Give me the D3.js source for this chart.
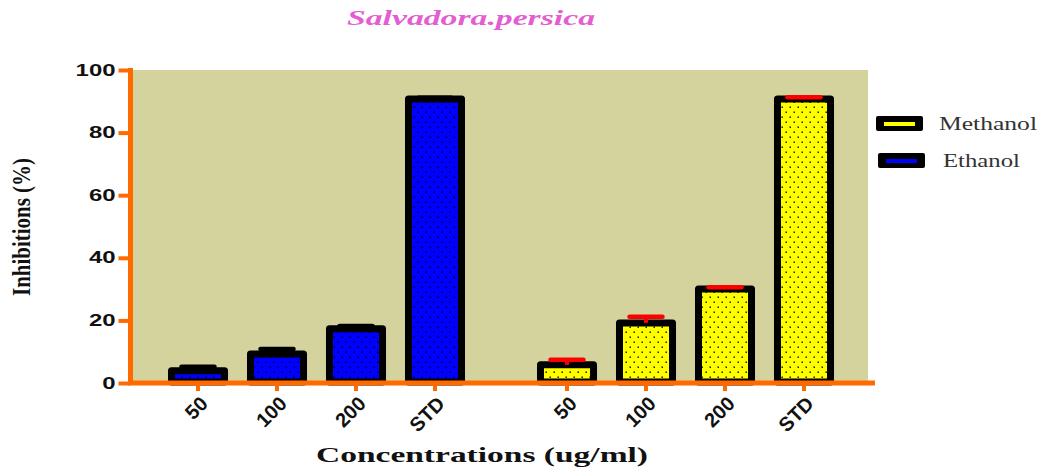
<!DOCTYPE html>
<html>
<head>
<meta charset="utf-8">
<script src="https://cdn.jsdelivr.net/npm/d3@7"></script>
<style>
  html, body { margin: 0; padding: 0; background: #ffffff; }
  svg { display: block; }
</style>
</head>
<body>
<svg id="chart" width="1041" height="472"></svg>
<script>
// Inhibition (%) of Salvadora persica extracts at each concentration
const groups = ["Ethanol", "Methanol"];
const concentrations = ["50", "100", "200", "STD"];
const ethanolMean = [3.9, 9.3, 17.3, 90.7];
const ethanolSem = [1.3, 1.6, 0.9, 0.4];
const methanolMean = [5.8, 19.2, 30.0, 90.7];
const methanolSem = [1.6, 2.0, 0.6, 0.6];
const yTicks = [0, 20, 40, 60, 80, 100];
const legendOrder = ["Methanol", "Ethanol"];

const fills = { Ethanol: "#0000ff", Methanol: "#ffff00" };
const errColor = { Ethanol: "#000000", Methanol: "#ff0000" };
const orange = "#ff6a00";

const svg = d3.select("#chart");

const plot = { left: 133, right: 868, top: 70, bottom: 383 };

const y = d3.scaleLinear().domain([0, 100]).range([plot.bottom, plot.top]);
const x0 = d3.scaleBand().domain(groups).range([158.5, 843.5]).paddingInner(53 / 369);
const x1 = d3.scaleBand().domain(concentrations).range([0, x0.bandwidth()])
  .paddingInner(0.24).paddingOuter(0.12);

const data = [];
groups.forEach(g => {
  const means = g === "Ethanol" ? ethanolMean : methanolMean;
  const sems = g === "Ethanol" ? ethanolSem : methanolSem;
  concentrations.forEach((c, i) => data.push({ group: g, conc: c, mean: means[i], sem: sems[i] }));
});

// dotted fill patterns
const defs = svg.append("defs");
groups.forEach(g => {
  const p = defs.append("pattern")
    .attr("id", "dots-" + g)
    .attr("patternUnits", "userSpaceOnUse")
    .attr("width", 8).attr("height", 10);
  p.append("rect").attr("width", 8).attr("height", 10).attr("fill", fills[g]);
  p.append("rect").attr("x", 1.5).attr("y", 1.5).attr("width", 1.4).attr("height", 1.4).attr("fill", "#000");
  p.append("rect").attr("x", 5.5).attr("y", 6.5).attr("width", 1.4).attr("height", 1.4).attr("fill", "#000");
});

// plot background
svg.append("rect")
  .attr("x", plot.left).attr("y", plot.top)
  .attr("width", plot.right - plot.left).attr("height", plot.bottom - plot.top)
  .attr("fill", "#d5d39d");

// bars
const sw = 7;
svg.append("g").selectAll("rect")
  .data(data)
  .join("rect")
  .attr("x", d => x0(d.group) + x1(d.conc) + sw / 2)
  .attr("width", x1.bandwidth() - sw)
  .attr("y", d => y(d.mean))
  .attr("height", d => y(0) - y(d.mean) - 1)
  .attr("fill", d => `url(#dots-${d.group})`)
  .attr("stroke", "#000")
  .attr("stroke-width", sw)
  .attr("stroke-linejoin", "round");

// error bars (upper only)
const capW = 33;
const eg = svg.append("g");
data.forEach(d => {
  const cx = x0(d.group) + x1(d.conc) + x1.bandwidth() / 2;
  eg.append("line")
    .attr("x1", cx).attr("x2", cx)
    .attr("y1", y(d.mean)).attr("y2", y(d.mean + d.sem))
    .attr("stroke", errColor[d.group]).attr("stroke-width", 4);
  eg.append("line")
    .attr("x1", cx - capW / 2).attr("x2", cx + capW / 2)
    .attr("y1", y(d.mean + d.sem)).attr("y2", y(d.mean + d.sem))
    .attr("stroke", errColor[d.group]).attr("stroke-width", 4.5)
    .attr("stroke-linecap", "round");
});

// y axis
const yAxis = svg.append("g")
  .attr("transform", `translate(${plot.left - 2.5},0)`)
  .call(d3.axisLeft(y).tickValues(yTicks).tickSize(12).tickPadding(3).tickSizeOuter(0));
yAxis.select(".domain").attr("stroke", orange).attr("stroke-width", 5)
  .attr("d", `M0,${plot.top - 2}V${plot.bottom + 2}`);
yAxis.selectAll(".tick line").attr("stroke", orange).attr("stroke-width", 4);
yAxis.selectAll(".tick text")
  .attr("fill", "#111")
  .style("font-family", "'Liberation Sans', Arial, sans-serif")
  .style("font-weight", "bold")
  .style("font-size", "16px")
  .attr("textLength", d => String(d).length * 13.3)
  .attr("lengthAdjust", "spacingAndGlyphs");

// x axis line
svg.append("line")
  .attr("x1", plot.left - 5).attr("x2", 875)
  .attr("y1", plot.bottom).attr("y2", plot.bottom)
  .attr("stroke", orange).attr("stroke-width", 5);

// x ticks per group
groups.forEach(g => {
  const ax = svg.append("g")
    .attr("transform", `translate(${x0(g)},${plot.bottom + 2})`)
    .call(d3.axisBottom(x1).tickSize(6).tickSizeOuter(0));
  ax.select(".domain").remove();
  ax.selectAll(".tick line").attr("stroke", orange).attr("stroke-width", 4);
  ax.selectAll(".tick text")
    .attr("fill", "#111")
    .style("font-family", "'Liberation Sans', Arial, sans-serif")
    .style("font-weight", "bold")
    .style("font-size", "20px")
    .attr("text-anchor", "end")
    .attr("dy", null)
    .attr("y", 0)
    .attr("transform", "translate(11,20) rotate(-45)");
});

// title
svg.append("text")
  .attr("x", 347).attr("y", 25)
  .attr("textLength", 248).attr("lengthAdjust", "spacingAndGlyphs")
  .attr("fill", "#e35ed0")
  .style("font-family", "'Liberation Serif', 'Times New Roman', serif")
  .style("font-weight", "bold").style("font-style", "italic")
  .style("font-size", "21px")
  .text("Salvadora.persica");

// y axis title
svg.append("text")
  .attr("transform", "translate(30,227) rotate(-90)")
  .attr("text-anchor", "middle")
  .attr("textLength", 138).attr("lengthAdjust", "spacingAndGlyphs")
  .attr("fill", "#111")
  .style("font-family", "'Liberation Serif', 'Times New Roman', serif")
  .style("font-weight", "bold").style("font-size", "25px")
  .text("Inhibitions (%)");

// x axis title
svg.append("text")
  .attr("x", 316).attr("y", 462)
  .attr("textLength", 332).attr("lengthAdjust", "spacingAndGlyphs")
  .attr("fill", "#111")
  .style("font-family", "'Liberation Serif', 'Times New Roman', serif")
  .style("font-weight", "bold").style("font-size", "21px")
  .text("Concentrations (ug/ml)");

// legend
const legend = svg.append("g");
legendOrder.forEach((g, i) => {
  const lx = 876 + i * 2, ly = 116 + i * 37;
  legend.append("rect")
    .attr("x", lx).attr("y", ly).attr("width", 47).attr("height", 15)
    .attr("rx", 2).attr("fill", "#000");
  legend.append("rect")
    .attr("x", lx + 8).attr("y", ly + 6).attr("width", 31).attr("height", 4)
    .attr("fill", fills[g]);
  legend.append("text")
    .attr("x", lx + 63 + i * 2).attr("y", ly + 14)
    .attr("textLength", g === "Methanol" ? 98 : 77).attr("lengthAdjust", "spacingAndGlyphs")
    .attr("fill", "#333")
    .style("font-family", "'Liberation Serif', 'Times New Roman', serif")
    .style("font-size", "18px")
    .text(g);
});
</script>
</body>
</html>
